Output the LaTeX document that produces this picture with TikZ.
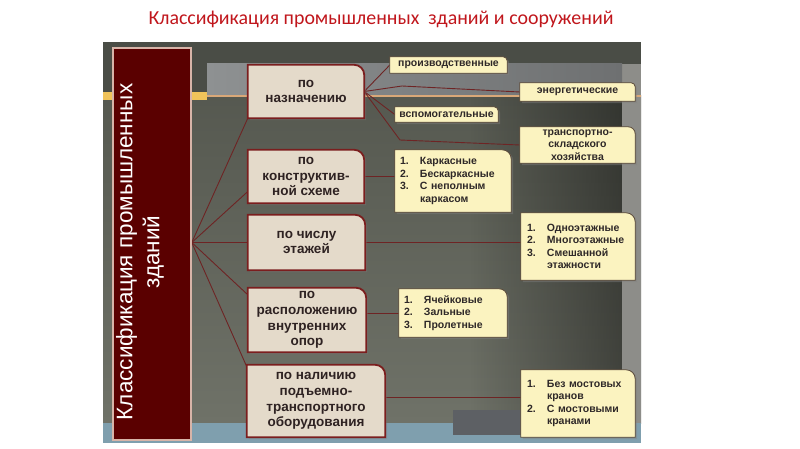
\documentclass[tikz,border=0pt]{standalone}
\usepackage{fontspec}
\setmainfont{Liberation Sans}
\newfontfamily\titlefont{Carlito}
\usepackage{xcolor}
\usetikzlibrary{shadows, fadings}

\definecolor{titlered}{HTML}{C0161C}
\definecolor{paneltop}{HTML}{4A4D46}
\definecolor{panelmid}{HTML}{858879}
\definecolor{panellow}{HTML}{6F7268}
\definecolor{greybar}{HTML}{8E9192}
\definecolor{greybarend}{HTML}{6E7071}
\definecolor{sidestrip}{HTML}{8D8D89}
\definecolor{goldbar}{HTML}{F0C35A}
\definecolor{thinline}{HTML}{D9A878}
\definecolor{bluestrip}{HTML}{7F9FAE}
\definecolor{darkpatch}{HTML}{5D6064}
\definecolor{maroon}{HTML}{5A0000}
\definecolor{maroonedge}{HTML}{D8B4A8}
\definecolor{catfill}{HTML}{E4DACA}
\definecolor{catline}{HTML}{7B1E1E}
\definecolor{cattext}{HTML}{2E2222}
\definecolor{leaffill}{HTML}{FBF3C0}
\definecolor{leafline}{HTML}{5B4B3B}
\definecolor{leaftext}{HTML}{2E2828}
\definecolor{linkred}{HTML}{6E2424}

\newcommand{\numitem}[1]{\makebox[20pt][l]{#1}}

\pgfdeclarelayer{back}
\pgfdeclarelayer{frames}
\pgfsetlayers{back,frames,main}

\begin{document}
\begin{tikzpicture}[x=1pt, y=-1pt]
  \tikzset{
    cat/.style={inner sep=0pt, align=center, text=cattext,
      font=\bfseries\fontsize{13.5}{15.8}\selectfont},
    leaf/.style={inner sep=0pt, align=center, text=leaftext,
      font=\bfseries\fontsize{10.5}{12.5}\selectfont},
    leaflist/.style={leaf, align=left},
    catframe/.style={draw=catline, line width=1.8pt, fill=catfill,
      drop shadow={shadow xshift=2pt, shadow yshift=-2pt, opacity=.35}},
    leafframe/.style={draw=leafline, line width=0.8pt, fill=leaffill,
      drop shadow={shadow xshift=2pt, shadow yshift=-2pt, opacity=.45}},
    link/.style={draw=linkred, line width=0.9pt}
  }
  \useasboundingbox (0,0) rectangle (800,449);

  % title
  \node[text=titlered, font=\titlefont\fontsize{19.9}{23}\selectfont] (title) at (381,19)
    {Классификация промышленных\ \ зданий и сооружений};

  % backdrop
  \begin{pgfonlayer}{back}
    \fill[paneltop] (103,42) rectangle (641,100);
    \shade[top color=paneltop!80!panelmid, middle color=panelmid, bottom color=panellow]
      (103,96) rectangle (641,423);
    \fill[black, fill opacity=.4, path fading=west] (470,96) rectangle (622,423);
    \fill[sidestrip] (622,64) rectangle (641,423);
    \shade[left color=greybar, right color=greybarend] (207,64) rectangle (622,96);
    \fill[goldbar] (103,92) rectangle (207,100);
    \draw[thinline, line width=1.5pt] (207,96) -- (641,96);
    \fill[bluestrip] (103,423) rectangle (641,443);
    \fill[darkpatch] (453,410) rectangle (622,435);
  \end{pgfonlayer}

  % side label
  \node[draw=maroonedge, line width=1.5pt, fill=maroon, minimum width=78pt,
    minimum height=392pt, inner sep=0pt] (side) at (152,244) {};
  \node[rotate=90, text=white, align=center, font=\fontsize{22.5}{27}\selectfont]
    (sidetext) at (140,252) {Классификация промышленных\\зданий};

  % categories
  \node[cat, minimum width=116pt, minimum height=53pt] (A) at (306,91.5) {по\\назначению};
  \node[cat, minimum width=116pt, minimum height=53pt] (B) at (306,176.5) {по\\конструктив-\\ной схеме};
  \node[cat, minimum width=117pt, minimum height=55pt] (C) at (306.5,242.5) {по числу\\этажей};
  \node[cat, minimum width=118pt, minimum height=64pt] (D) at (307,320) {по\\расположению\\внутренних\\опор};
  \node[cat, minimum width=138pt, minimum height=72pt] (E) at (316,401) {по наличию\\подъемно-\\транспортного\\оборудования};

  % leaves
  \node[leaf, minimum width=117pt, minimum height=16pt] (p1) at (448.5,65) {производственные};
  \node[leaf, minimum width=115pt, minimum height=18pt] (p2) at (577.5,92) {энергетические};
  \node[leaf, minimum width=103pt, minimum height=15pt] (p3) at (446.5,114.5) {вспомогательные};
  \node[leaf, minimum width=115pt, minimum height=36pt] (p4) at (577.5,145) {транспортно-\\складского\\хозяйства};
  \node[leaflist, text width=106pt, minimum width=116pt, minimum height=62pt] (L1) at (453,181)
    {\numitem{1.}Каркасные\\\numitem{2.}Бескаркасные\\\numitem{3.}С неполным\\\numitem{}каркасом};
  \node[leaflist, text width=102pt, minimum width=114pt, minimum height=67pt] (L2) at (578,246.5)
    {\numitem{1.}Одноэтажные\\\numitem{2.}Многоэтажные\\\numitem{3.}Смешанной\\\numitem{}этажности};
  \node[leaflist, text width=98pt, minimum width=108pt, minimum height=48pt] (L3) at (453,313)
    {\numitem{1.}Ячейковые\\\numitem{2.}Зальные\\\numitem{3.}Пролетные};
  \node[leaflist, text width=102pt, minimum width=114pt, minimum height=67pt] (L4) at (578,403.5)
    {\numitem{1.}Без мостовых\\\numitem{}кранов\\\numitem{2.}С мостовыми\\\numitem{}кранами};

  \coordinate (fan) at (side.east |- C.west);
  \coordinate (bendE) at (402,86);
  \coordinate (bendT) at (400,140);

  \begin{pgfonlayer}{frames}
    % connectors
    \draw[link] (fan) -- (A.south west);
    \draw[link] (fan) -- ([yshift=-15pt]B.west);
    \draw[link] (fan) -- (C.west);
    \draw[link] (fan) -- ([yshift=-7pt]D.north west);
    \draw[link] (fan) -- ([yshift=-2pt]E.north west);
    \draw[link] (A.east) -- (p1.west);
    \draw[link] (A.east) -- (bendE) -- (p2.west);
    \draw[link] (A.east) -- (p3.west);
    \draw[link] (A.east) -- (bendT) -- (p4.west);
    \draw[link] (B.east) -- (B.east -| L1.west);
    \draw[link] (C.east) -- (C.east -| L2.west);
    \draw[link] (L3.west -| D.east) -- (L3.west);
    \draw[link] (E.east |- 0,397) -- ([yshift=6.5pt]L4.west);
    % frames with one rounded corner
    \foreach \n/\r in {A/10,B/10,C/10,D/10,E/10}
      \draw[catframe] (\n.south west) -- (\n.north west) -- ([xshift=-\r pt]\n.north east)
        arc[start angle=90, end angle=0, radius=\r pt] -- (\n.south east) -- cycle;
    \foreach \n/\r in {p1/4,p2/4,p3/4,p4/7,L1/9,L2/9,L3/8,L4/9}
      \draw[leafframe] (\n.south west) -- (\n.north west) -- ([xshift=-\r pt]\n.north east)
        arc[start angle=90, end angle=0, radius=\r pt] -- (\n.south east) -- cycle;
  \end{pgfonlayer}
\end{tikzpicture}
\end{document}
